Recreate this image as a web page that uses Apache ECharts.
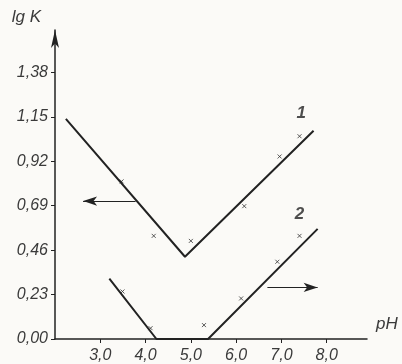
<!DOCTYPE html>
<html><head><meta charset="utf-8">
<script src="https://cdn.jsdelivr.net/npm/echarts@6/dist/echarts.min.js"></script>
<style>html,body{margin:0;padding:0;background:#fbfaf7}#c{width:402px;height:364px}</style>
</head><body><div id="c"></div>
<script>
const xTicks = [3, 4, 5, 6, 7, 8];
const yTicks = [0, 0.23, 0.46, 0.69, 0.92, 1.15, 1.38];
const line1X = [2.24, 4.87, 7.71];
const line1Y = [1.14, 0.426, 1.078];
const line2X = [3.2, 4.24, 5.38, 7.8];
const line2Y = [0.313, 0.0, 0.0, 0.57];
const pts1X = [3.47, 4.18, 5.0, 6.18, 6.96, 7.4];
const pts1Y = [0.816, 0.534, 0.508, 0.688, 0.945, 1.05];
const pts2X = [3.49, 4.11, 5.29, 6.11, 6.91, 7.4];
const pts2Y = [0.246, 0.056, 0.072, 0.21, 0.40, 0.534];
const curveNames = ['1', '2'];
const labelX = [7.44, 7.4];
const labelY = [1.17, 0.647];
const arrowLeft = [[3.78, 0.714], [2.62, 0.714]];
const arrowRight = [[6.69, 0.267], [7.8, 0.267]];

const zip = (a, b) => a.map((v, i) => [v, b[i]]);
const ink = '#222';
const txt = '#3a3a3a';
const fam = '"Liberation Sans", Arial, sans-serif';
const xMark = 'path://M0,0L10,10M10,0L0,10';

const chart = echarts.init(document.getElementById('c'));
chart.setOption({
  backgroundColor: '#fbfaf7',
  animation: false,
  grid: { left: 55, right: 35, top: 30, bottom: 24, containLabel: false },
  xAxis: {
    type: 'value', min: 2, max: 8.89, interval: 1,
    splitLine: { show: false },
    axisLine: { lineStyle: { color: ink, width: 1.5 } },
    axisTick: { show: true, inside: false, length: 4, customValues: xTicks, lineStyle: { color: ink } },
    axisLabel: { customValues: xTicks, margin: 9, color: txt, fontFamily: fam, fontStyle: 'italic', fontSize: 16,
      formatter: v => v.toFixed(1).replace('.', ',') },
    name: 'pH', nameLocation: 'end', nameGap: 9,
    nameTextStyle: { color: txt, fontFamily: fam, fontStyle: 'italic', fontSize: 17, verticalAlign: 'bottom', padding: [0, 0, 6, 0] }
  },
  yAxis: {
    type: 'value', min: 0, max: 1.6, interval: 0.23,
    splitLine: { show: false },
    axisLine: { symbol: ['none', 'arrow'], symbolSize: [6, 18], lineStyle: { color: ink, width: 1.5 } },
    axisTick: { show: true, length: 4, customValues: yTicks, lineStyle: { color: ink } },
    axisLabel: { customValues: yTicks, margin: 7, color: txt, fontFamily: fam, fontStyle: 'italic', fontSize: 16,
      formatter: v => v.toFixed(2).replace('.', ',') },
    name: 'lg K', nameLocation: 'end', nameGap: 4,
    nameTextStyle: { color: txt, fontFamily: fam, fontStyle: 'italic', fontSize: 17, align: 'right', padding: [0, 14, 0, 0] }
  },
  series: [
    { type: 'line', data: zip(line1X, line1Y), symbol: 'none', lineStyle: { color: ink, width: 2 },
      markLine: { silent: true, symbol: ['none', 'arrow'], symbolSize: [7, 14], label: { show: false },
        lineStyle: { color: ink, width: 1, type: 'solid' },
        data: [[{ coord: arrowLeft[0] }, { coord: arrowLeft[1] }], [{ coord: arrowRight[0] }, { coord: arrowRight[1] }]] } },
    { type: 'line', data: zip(line2X, line2Y), symbol: 'none', lineStyle: { color: ink, width: 2 } },
    { type: 'scatter', data: zip(pts1X, pts1Y), symbol: xMark, symbolSize: 4, itemStyle: { color: 'none', borderColor: '#333', borderWidth: 1 } },
    { type: 'scatter', data: zip(pts2X, pts2Y), symbol: xMark, symbolSize: 4, itemStyle: { color: 'none', borderColor: '#333', borderWidth: 1 } },
    { type: 'scatter', data: curveNames.map((n, i) => ({ name: n, value: [labelX[i], labelY[i]] })), symbolSize: 0,
      label: { show: true, position: 'inside', formatter: p => p.name, color: '#222', fontFamily: fam, fontStyle: 'italic', fontSize: 17, fontWeight: 'bold' } }
  ]
});
</script></body></html>
